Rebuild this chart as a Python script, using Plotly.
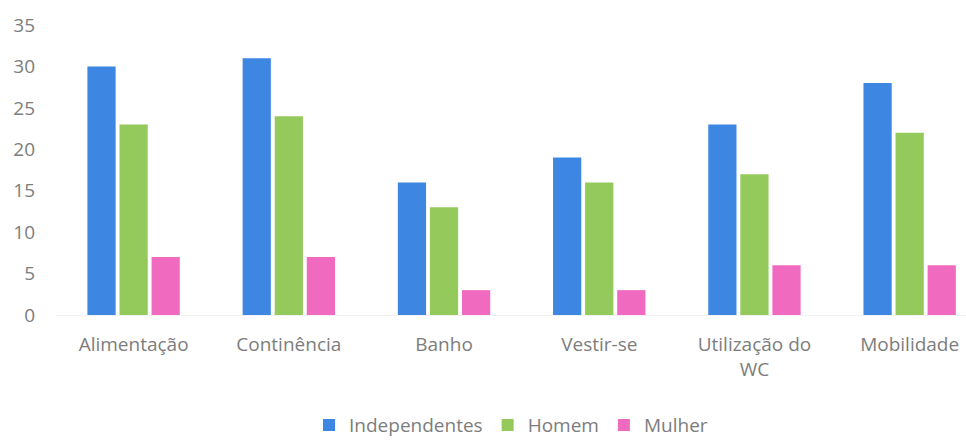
import plotly.graph_objects as go

categories = ["Alimentação", "Continência", "Banho", "Vestir-se", "Utilização do<br>WC", "Mobilidade"]
independentes = [30, 31, 16, 19, 23, 28]
homem = [23, 24, 13, 16, 17, 22]
mulher = [7, 7, 3, 3, 6, 6]

series = [
    ("Independentes", independentes, "#3d87e3"),
    ("Homem", homem, "#94c95c"),
    ("Mulher", mulher, "#f06ac0"),
]

fig = go.Figure()
for name, vals, color in series:
    fig.add_trace(go.Bar(x=categories, y=vals, name=name, marker_color=color,
                         marker_line_width=0))

text_color = "#7d7d7d"
fig.update_layout(
    width=966, height=441,
    margin=dict(l=56, r=0, t=25, b=126, autoexpand=False),
    paper_bgcolor="white", plot_bgcolor="white",
    barmode="group", bargap=0.38, bargroupgap=0.12,
    font=dict(family="Open Sans", size=19, color=text_color),
    showlegend=True,
    legend=dict(orientation="h", x=0.5, xanchor="center", y=-0.38, yanchor="middle",
                font=dict(size=19, color=text_color), itemwidth=30, traceorder="normal",
                tracegroupgap=0),
)
fig.update_xaxes(range=[-0.5, 5.363], showgrid=False, showline=True, linecolor="#f2f2f2",
                 ticks="", tickfont=dict(size=19, color=text_color), ticklabelstandoff=12,
                 automargin=False)
fig.update_yaxes(range=[0, 35], dtick=5, showgrid=False, zeroline=False, ticks="",
                 tickfont=dict(size=19, color=text_color), ticklabelstandoff=20,
                 automargin=False)

fig.write_html("out.html")
